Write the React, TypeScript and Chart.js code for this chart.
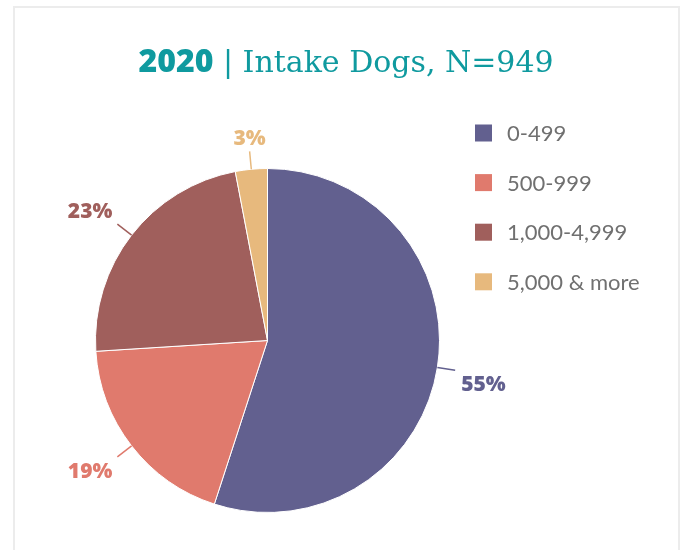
import React, { useEffect, useRef } from "react";
import { Chart, registerables } from "chart.js";

Chart.register(...registerables);

const titleYear = "2020";
const titleRest = " | Intake Dogs, N=949";
const categories = ["0-499", "500-999", "1,000-4,999", "5,000 & more"];
const percents = [55, 19, 23, 3];
const colors = ["#62608f", "#e07a6d", "#a05f5c", "#e7b97d"];

const W = 683;
const H = 550;

const titlePlugin = {
  id: "customTitle",
  afterDraw(chart: any) {
    const ctx = chart.ctx;
    ctx.save();
    const f1 = "800 32px 'Open Sans'";
    const f2 = "30px 'DejaVu Serif'";
    ctx.font = f1;
    const w1 = ctx.measureText(titleYear).width;
    ctx.font = f2;
    const w2 = ctx.measureText(titleRest).width;
    const cx = 346;
    const y = 72;
    const x = cx - (w1 + w2) / 2;
    ctx.fillStyle = "#0f9a9f";
    ctx.textBaseline = "alphabetic";
    ctx.textAlign = "left";
    ctx.font = f1;
    ctx.fillText(titleYear, x, y);
    ctx.font = f2;
    ctx.fillText(titleRest, x + w1, y);
    ctx.restore();
  },
};

const legendPlugin = {
  id: "customLegend",
  afterDraw(chart: any) {
    const ctx = chart.ctx;
    const labels = chart.data.labels as string[];
    const bg = chart.data.datasets[0].backgroundColor as string[];
    ctx.save();
    const x0 = 475;
    const y0 = 133;
    const step = 49.6;
    const box = 17;
    ctx.font = "22px Lato";
    ctx.textBaseline = "middle";
    ctx.textAlign = "left";
    labels.forEach((lab, i) => {
      const cy = y0 + i * step;
      ctx.fillStyle = bg[i];
      ctx.fillRect(x0, cy - box / 2, box, box);
      ctx.fillStyle = "#707070";
      ctx.fillText(lab, x0 + 32, cy + 1);
    });
    ctx.restore();
  },
};

const labelPlugin = {
  id: "outsideLabels",
  afterDatasetsDraw(chart: any) {
    const ctx = chart.ctx;
    const meta = chart.getDatasetMeta(0);
    const data = chart.data.datasets[0].data as number[];
    const bg = chart.data.datasets[0].backgroundColor as string[];
    const total = data.reduce((a, b) => a + b, 0);
    ctx.save();
    meta.data.forEach((arc: any, i: number) => {
      const p = arc.getProps(["x", "y", "startAngle", "endAngle", "outerRadius"], true);
      const mid = (p.startAngle + p.endAngle) / 2;
      const dx = Math.cos(mid);
      const dy = Math.sin(mid);
      const r = p.outerRadius;
      const x1 = p.x + dx * r;
      const y1 = p.y + dy * r;
      const x2 = p.x + dx * (r + 18);
      const y2 = p.y + dy * (r + 18);
      ctx.strokeStyle = bg[i];
      ctx.lineWidth = 1.5;
      ctx.beginPath();
      ctx.moveTo(x1, y1);
      ctx.lineTo(x2, y2);
      ctx.stroke();
      const txt = Math.round((data[i] / total) * 100) + "%";
      ctx.font = "800 21px 'Open Sans'";
      ctx.fillStyle = bg[i];
      ctx.textBaseline = "alphabetic";
      let tx = x2;
      if (dx > 0.3) {
        ctx.textAlign = "left";
        tx = x2 + 6;
      } else if (dx < -0.3) {
        ctx.textAlign = "right";
        tx = x2 - 5;
      } else {
        ctx.textAlign = "center";
      }
      const ty = dy > 0 ? y2 + 21 : y2 - 6;
      ctx.fillText(txt, tx, ty);
    });
    ctx.restore();
  },
};

export default function App() {
  const ref = useRef<HTMLCanvasElement | null>(null);
  useEffect(() => {
    document.body.style.overflow = "hidden";
    if (!ref.current) return;
    const chart = new Chart(ref.current, {
      type: "pie",
      data: {
        labels: categories,
        datasets: [
          {
            data: percents,
            backgroundColor: colors,
            borderColor: "#ffffff",
            borderWidth: 1,
          },
        ],
      },
      options: {
        responsive: false,
        animation: false,
        layout: { padding: { left: 95, right: 243, top: 168, bottom: 37 } },
        plugins: {
          legend: { display: false },
          title: { display: false },
          tooltip: { enabled: false },
        },
      },
      plugins: [titlePlugin, legendPlugin, labelPlugin],
    });
    return () => chart.destroy();
  }, []);
  return (
    <div>
      <div
        style={{
          position: "fixed",
          left: 13,
          top: 6,
          width: 667,
          height: 544,
          border: "2px solid #ececec",
          borderBottom: "none",
          boxSizing: "border-box",
          background: "#fff",
        }}
      />
      <canvas
        ref={ref}
        width={W}
        height={H}
        style={{ position: "fixed", left: 0, top: 0, width: W, height: H }}
      />
    </div>
  );
}
